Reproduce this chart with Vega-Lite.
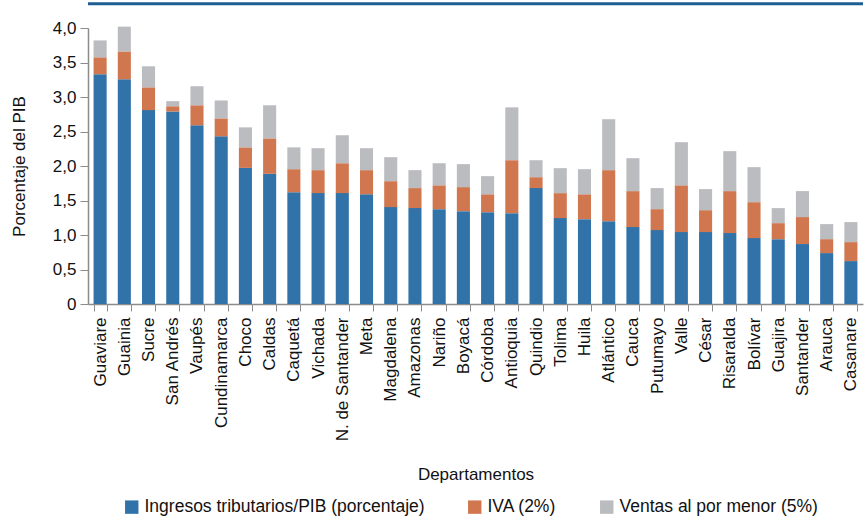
{
  "$schema": "https://vega.github.io/schema/vega-lite/v6.json",
  "width": 775,
  "height": 276,
  "autosize": {"type": "none"},
  "padding": {"left": 88, "top": 28, "right": 2, "bottom": 217},
  "background": "white",
  "config": {
    "font": "Liberation Sans",
    "view": {"stroke": null},
    "axis": {"labelFont": "Liberation Sans", "titleFont": "Liberation Sans", "labelColor": "#111", "titleColor": "#111", "titleFontWeight": "normal"},
    "axisY": {"labelOverlap": false, "tickCount": 8},
    "legend": {"labelFont": "Liberation Sans"}
  },
  "data": {
    "values": [
      {"dep": "Guaviare", "serie": "Ingresos tributarios/PIB (porcentaje)", "o": 1, "v": 3.33},
      {"dep": "Guaviare", "serie": "IVA (2%)", "o": 2, "v": 0.245},
      {"dep": "Guaviare", "serie": "Ventas al por menor (5%)", "o": 3, "v": 0.245},
      {"dep": "Guainia", "serie": "Ingresos tributarios/PIB (porcentaje)", "o": 1, "v": 3.257},
      {"dep": "Guainia", "serie": "IVA (2%)", "o": 2, "v": 0.403},
      {"dep": "Guainia", "serie": "Ventas al por menor (5%)", "o": 3, "v": 0.36},
      {"dep": "Sucre", "serie": "Ingresos tributarios/PIB (porcentaje)", "o": 1, "v": 2.81},
      {"dep": "Sucre", "serie": "IVA (2%)", "o": 2, "v": 0.33},
      {"dep": "Sucre", "serie": "Ventas al por menor (5%)", "o": 3, "v": 0.305},
      {"dep": "San Andrés", "serie": "Ingresos tributarios/PIB (porcentaje)", "o": 1, "v": 2.79},
      {"dep": "San Andrés", "serie": "IVA (2%)", "o": 2, "v": 0.076},
      {"dep": "San Andrés", "serie": "Ventas al por menor (5%)", "o": 3, "v": 0.074},
      {"dep": "Vaupés", "serie": "Ingresos tributarios/PIB (porcentaje)", "o": 1, "v": 2.59},
      {"dep": "Vaupés", "serie": "IVA (2%)", "o": 2, "v": 0.29},
      {"dep": "Vaupés", "serie": "Ventas al por menor (5%)", "o": 3, "v": 0.276},
      {"dep": "Cundinamarca", "serie": "Ingresos tributarios/PIB (porcentaje)", "o": 1, "v": 2.43},
      {"dep": "Cundinamarca", "serie": "IVA (2%)", "o": 2, "v": 0.26},
      {"dep": "Cundinamarca", "serie": "Ventas al por menor (5%)", "o": 3, "v": 0.26},
      {"dep": "Choco", "serie": "Ingresos tributarios/PIB (porcentaje)", "o": 1, "v": 1.973},
      {"dep": "Choco", "serie": "IVA (2%)", "o": 2, "v": 0.297},
      {"dep": "Choco", "serie": "Ventas al por menor (5%)", "o": 3, "v": 0.29},
      {"dep": "Caldas", "serie": "Ingresos tributarios/PIB (porcentaje)", "o": 1, "v": 1.887},
      {"dep": "Caldas", "serie": "IVA (2%)", "o": 2, "v": 0.513},
      {"dep": "Caldas", "serie": "Ventas al por menor (5%)", "o": 3, "v": 0.48},
      {"dep": "Caquetá", "serie": "Ingresos tributarios/PIB (porcentaje)", "o": 1, "v": 1.62},
      {"dep": "Caquetá", "serie": "IVA (2%)", "o": 2, "v": 0.334},
      {"dep": "Caquetá", "serie": "Ventas al por menor (5%)", "o": 3, "v": 0.316},
      {"dep": "Vichada", "serie": "Ingresos tributarios/PIB (porcentaje)", "o": 1, "v": 1.607},
      {"dep": "Vichada", "serie": "IVA (2%)", "o": 2, "v": 0.333},
      {"dep": "Vichada", "serie": "Ventas al por menor (5%)", "o": 3, "v": 0.318},
      {"dep": "N. de Santander", "serie": "Ingresos tributarios/PIB (porcentaje)", "o": 1, "v": 1.607},
      {"dep": "N. de Santander", "serie": "IVA (2%)", "o": 2, "v": 0.433},
      {"dep": "N. de Santander", "serie": "Ventas al por menor (5%)", "o": 3, "v": 0.406},
      {"dep": "Meta", "serie": "Ingresos tributarios/PIB (porcentaje)", "o": 1, "v": 1.59},
      {"dep": "Meta", "serie": "IVA (2%)", "o": 2, "v": 0.35},
      {"dep": "Meta", "serie": "Ventas al por menor (5%)", "o": 3, "v": 0.318},
      {"dep": "Magdalena", "serie": "Ingresos tributarios/PIB (porcentaje)", "o": 1, "v": 1.404},
      {"dep": "Magdalena", "serie": "IVA (2%)", "o": 2, "v": 0.376},
      {"dep": "Magdalena", "serie": "Ventas al por menor (5%)", "o": 3, "v": 0.348},
      {"dep": "Amazonas", "serie": "Ingresos tributarios/PIB (porcentaje)", "o": 1, "v": 1.39},
      {"dep": "Amazonas", "serie": "IVA (2%)", "o": 2, "v": 0.29},
      {"dep": "Amazonas", "serie": "Ventas al por menor (5%)", "o": 3, "v": 0.26},
      {"dep": "Nariño", "serie": "Ingresos tributarios/PIB (porcentaje)", "o": 1, "v": 1.375},
      {"dep": "Nariño", "serie": "IVA (2%)", "o": 2, "v": 0.345},
      {"dep": "Nariño", "serie": "Ventas al por menor (5%)", "o": 3, "v": 0.32},
      {"dep": "Boyacá", "serie": "Ingresos tributarios/PIB (porcentaje)", "o": 1, "v": 1.346},
      {"dep": "Boyacá", "serie": "IVA (2%)", "o": 2, "v": 0.348},
      {"dep": "Boyacá", "serie": "Ventas al por menor (5%)", "o": 3, "v": 0.333},
      {"dep": "Córdoba", "serie": "Ingresos tributarios/PIB (porcentaje)", "o": 1, "v": 1.33},
      {"dep": "Córdoba", "serie": "IVA (2%)", "o": 2, "v": 0.26},
      {"dep": "Córdoba", "serie": "Ventas al por menor (5%)", "o": 3, "v": 0.263},
      {"dep": "Antioquia", "serie": "Ingresos tributarios/PIB (porcentaje)", "o": 1, "v": 1.317},
      {"dep": "Antioquia", "serie": "IVA (2%)", "o": 2, "v": 0.767},
      {"dep": "Antioquia", "serie": "Ventas al por menor (5%)", "o": 3, "v": 0.766},
      {"dep": "Quindio", "serie": "Ingresos tributarios/PIB (porcentaje)", "o": 1, "v": 1.68},
      {"dep": "Quindio", "serie": "IVA (2%)", "o": 2, "v": 0.158},
      {"dep": "Quindio", "serie": "Ventas al por menor (5%)", "o": 3, "v": 0.246},
      {"dep": "Tolima", "serie": "Ingresos tributarios/PIB (porcentaje)", "o": 1, "v": 1.245},
      {"dep": "Tolima", "serie": "IVA (2%)", "o": 2, "v": 0.362},
      {"dep": "Tolima", "serie": "Ventas al por menor (5%)", "o": 3, "v": 0.362},
      {"dep": "Huila", "serie": "Ingresos tributarios/PIB (porcentaje)", "o": 1, "v": 1.23},
      {"dep": "Huila", "serie": "IVA (2%)", "o": 2, "v": 0.36},
      {"dep": "Huila", "serie": "Ventas al por menor (5%)", "o": 3, "v": 0.364},
      {"dep": "Atlántico", "serie": "Ingresos tributarios/PIB (porcentaje)", "o": 1, "v": 1.2},
      {"dep": "Atlántico", "serie": "IVA (2%)", "o": 2, "v": 0.74},
      {"dep": "Atlántico", "serie": "Ventas al por menor (5%)", "o": 3, "v": 0.738},
      {"dep": "Cauca", "serie": "Ingresos tributarios/PIB (porcentaje)", "o": 1, "v": 1.115},
      {"dep": "Cauca", "serie": "IVA (2%)", "o": 2, "v": 0.521},
      {"dep": "Cauca", "serie": "Ventas al por menor (5%)", "o": 3, "v": 0.477},
      {"dep": "Putumayo", "serie": "Ingresos tributarios/PIB (porcentaje)", "o": 1, "v": 1.071},
      {"dep": "Putumayo", "serie": "IVA (2%)", "o": 2, "v": 0.304},
      {"dep": "Putumayo", "serie": "Ventas al por menor (5%)", "o": 3, "v": 0.305},
      {"dep": "Valle", "serie": "Ingresos tributarios/PIB (porcentaje)", "o": 1, "v": 1.042},
      {"dep": "Valle", "serie": "IVA (2%)", "o": 2, "v": 0.678},
      {"dep": "Valle", "serie": "Ventas al por menor (5%)", "o": 3, "v": 0.625},
      {"dep": "César", "serie": "Ingresos tributarios/PIB (porcentaje)", "o": 1, "v": 1.042},
      {"dep": "César", "serie": "IVA (2%)", "o": 2, "v": 0.318},
      {"dep": "César", "serie": "Ventas al por menor (5%)", "o": 3, "v": 0.305},
      {"dep": "Risaralda", "serie": "Ingresos tributarios/PIB (porcentaje)", "o": 1, "v": 1.028},
      {"dep": "Risaralda", "serie": "IVA (2%)", "o": 2, "v": 0.608},
      {"dep": "Risaralda", "serie": "Ventas al por menor (5%)", "o": 3, "v": 0.579},
      {"dep": "Bolívar", "serie": "Ingresos tributarios/PIB (porcentaje)", "o": 1, "v": 0.955},
      {"dep": "Bolívar", "serie": "IVA (2%)", "o": 2, "v": 0.521},
      {"dep": "Bolívar", "serie": "Ventas al por menor (5%)", "o": 3, "v": 0.507},
      {"dep": "Guajira", "serie": "Ingresos tributarios/PIB (porcentaje)", "o": 1, "v": 0.94},
      {"dep": "Guajira", "serie": "IVA (2%)", "o": 2, "v": 0.232},
      {"dep": "Guajira", "serie": "Ventas al por menor (5%)", "o": 3, "v": 0.218},
      {"dep": "Santander", "serie": "Ingresos tributarios/PIB (porcentaje)", "o": 1, "v": 0.869},
      {"dep": "Santander", "serie": "IVA (2%)", "o": 2, "v": 0.391},
      {"dep": "Santander", "serie": "Ventas al por menor (5%)", "o": 3, "v": 0.376},
      {"dep": "Arauca", "serie": "Ingresos tributarios/PIB (porcentaje)", "o": 1, "v": 0.738},
      {"dep": "Arauca", "serie": "IVA (2%)", "o": 2, "v": 0.202},
      {"dep": "Arauca", "serie": "Ventas al por menor (5%)", "o": 3, "v": 0.218},
      {"dep": "Casanare", "serie": "Ingresos tributarios/PIB (porcentaje)", "o": 1, "v": 0.622},
      {"dep": "Casanare", "serie": "IVA (2%)", "o": 2, "v": 0.275},
      {"dep": "Casanare", "serie": "Ventas al por menor (5%)", "o": 3, "v": 0.29}
    ]
  },
  "layer": [
    {
      "mark": {"type": "bar", "clip": false},
      "encoding": {
        "x": {
          "field": "dep",
          "type": "nominal",
          "sort": null,
          "scale": {"paddingInner": 0.46, "paddingOuter": 0.23},
          "axis": {
            "title": "Departamentos",
            "titleFontSize": 17,
            "titleY": 162,
            "titleBaseline": "top",
            "labelAngle": -90,
            "labelFontSize": 17,
            "labelAlign": "right",
            "labelBaseline": "middle",
            "labelPadding": 6,
            "tickBand": "extent",
            "tickSize": 7,
            "tickColor": "#8c8c8c",
            "domainColor": "#8c8c8c",
            "domainWidth": 1.5,
            "labelOverlap": false
          }
        },
        "y": {
          "field": "v",
          "type": "quantitative",
          "stack": "zero",
          "scale": {"domain": [0, 4], "nice": false},
          "axis": {
            "title": "Porcentaje del PIB",
            "titleFontSize": 17,
            "titlePadding": 24,
            "tickCount": 8,
            "labelExpr": "datum.value == 0 ? '0' : replace(format(datum.value, '.1f'), '.', ',')",
            "labelFontSize": 17,
            "labelPadding": 4,
            "labelOverlap": false,
            "tickSize": 8,
            "tickColor": "#8c8c8c",
            "domainColor": "#8c8c8c",
            "domainWidth": 1.5,
            "grid": false
          }
        },
        "color": {
          "field": "serie",
          "type": "nominal",
          "sort": ["Ingresos tributarios/PIB (porcentaje)", "IVA (2%)", "Ventas al por menor (5%)"],
          "scale": {"range": ["#3173a9", "#d0774f", "#bbbcc0"]},
          "legend": {
            "title": null,
            "orient": "none",
            "legendX": 35,
            "legendY": 470,
            "direction": "horizontal",
            "symbolType": "square",
            "symbolSize": 180,
            "symbolStrokeWidth": 0,
            "labelFontSize": 17.5,
            "labelColor": "#111",
            "columnPadding": 41,
            "labelLimit": 400
          }
        },
        "order": {"field": "o", "type": "quantitative"}
      }
    },
    {
      "data": {"values": [{"y": 4.35}]},
      "mark": {"type": "rule", "color": "#1d5e94", "strokeWidth": 3},
      "encoding": {
        "y": {
          "field": "y",
          "type": "quantitative",
          "axis": {
            "title": "Porcentaje del PIB",
            "titleFontSize": 17,
            "titlePadding": 24,
            "tickCount": 8,
            "labelExpr": "datum.value == 0 ? '0' : replace(format(datum.value, '.1f'), '.', ',')",
            "labelFontSize": 17,
            "labelPadding": 4,
            "labelOverlap": false,
            "tickSize": 8,
            "tickColor": "#8c8c8c",
            "domainColor": "#8c8c8c",
            "domainWidth": 1.5,
            "grid": false
          }
        }
      }
    }
  ]
}
